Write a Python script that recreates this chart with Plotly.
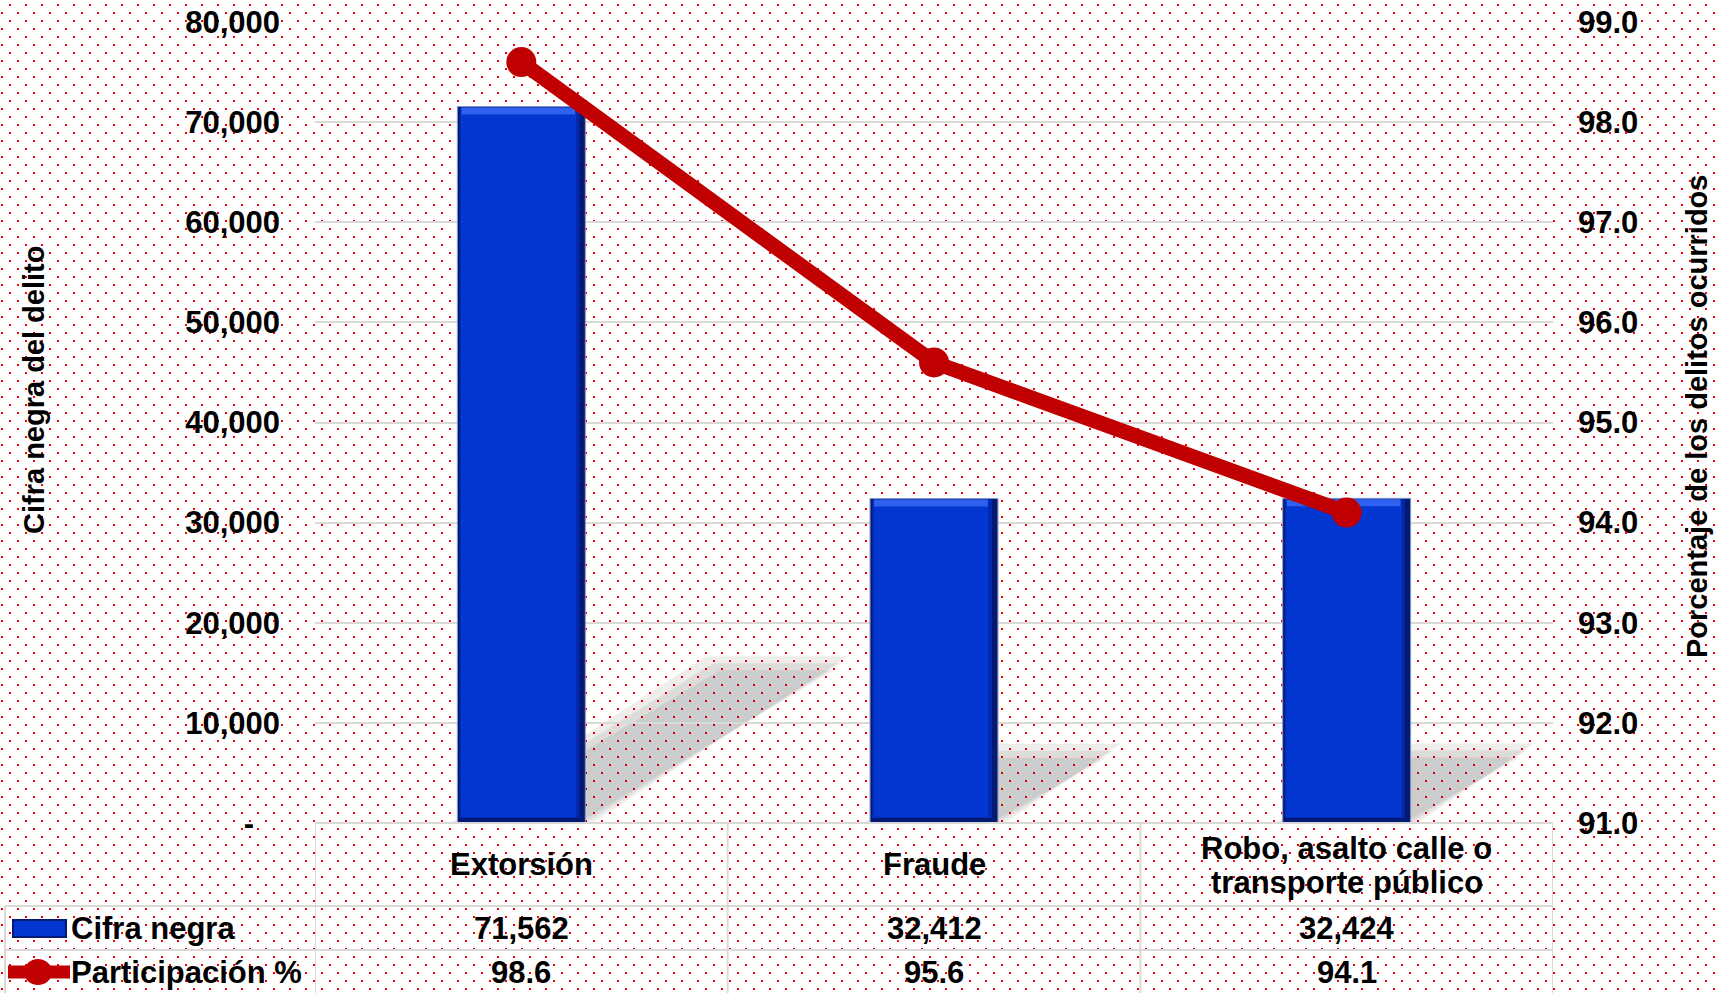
import base64
import plotly.graph_objects as go

# datos
categories = ["Extorsión", "Fraude", "Robo, asalto calle o transporte público"]
category_labels = ["Extorsión", "Fraude", "Robo, asalto calle o\ntransporte público"]
cifra_negra = [71562, 32412, 32424]
participacion = [98.6, 95.6, 94.1]
left_ticks = [0, 10000, 20000, 30000, 40000, 50000, 60000, 70000, 80000]
right_ticks = [91.0, 92.0, 93.0, 94.0, 95.0, 96.0, 97.0, 98.0, 99.0]
row_names = ["Cifra negra", "Participación %"]

# colores / medidas
W, H = 1716, 993
PL, PR, PT, PB = 315, 1553, 22, 823
RED = "#C00000"
BLUE = "#0335D0"
GRID = "#D9D9D9"
FONT = "Liberation Sans, Arial, sans-serif"
FS = 31

n = len(categories)
idx = list(range(n))
ux = n / (PR - PL)                      # unidades de categoría por px
uy = left_ticks[-1] / (PB - PT)         # unidades del eje izq. por px
BAR_W = 0.31


def px(x):
    return (x - PL) / (PR - PL)


def py(y):
    return (PB - y) / (PB - PT)


# fondo de puntos rojos
svg = (
    f'<svg xmlns="http://www.w3.org/2000/svg" width="{W}" height="{H}" shape-rendering="crispEdges">'
    '<defs><pattern id="d" width="16" height="16" patternUnits="userSpaceOnUse">'
    '<rect x="9" y="4" width="2" height="2" fill="#ff0000"/>'
    '<rect x="1" y="12" width="2" height="2" fill="#ff0000"/>'
    '</pattern></defs>'
    f'<rect width="{W}" height="{H}" fill="#ffffff"/>'
    f'<rect width="{W}" height="{H}" fill="url(#d)"/></svg>'
)
bg_src = "data:image/svg+xml;base64," + base64.b64encode(svg.encode()).decode()

fig = go.Figure()

# barras con efecto bisel (capas)
fig.add_trace(go.Bar(
    x=idx, y=cifra_negra, width=BAR_W, offset=-BAR_W / 2,
    marker=dict(color="#021A72", line=dict(color="#8C98C4", width=1)),
    hoverinfo="skip",
))
fig.add_trace(go.Bar(
    x=idx, y=[v - 6 * uy for v in cifra_negra], base=[5 * uy] * n,
    width=BAR_W - 8 * ux, offset=-BAR_W / 2 + 2 * ux,
    marker=dict(color="#0229B0", line=dict(width=0)),
    hoverinfo="skip",
))
fig.add_trace(go.Bar(
    x=idx, y=[v - 7 * uy for v in cifra_negra], base=[6 * uy] * n,
    width=BAR_W - 14 * ux, offset=-BAR_W / 2 + 4 * ux,
    marker=dict(color="#2F60EE", line=dict(width=0)),
    hoverinfo="skip",
))
fig.add_trace(go.Bar(
    x=idx, y=[v - 14 * uy for v in cifra_negra], base=[6 * uy] * n,
    width=BAR_W - 14 * ux, offset=-BAR_W / 2 + 4 * ux,
    marker=dict(color=BLUE, line=dict(width=0)),
    name="Cifra negra", hovertemplate="%{y:,.0f}<extra></extra>",
))

# línea de participación
fig.add_trace(go.Scatter(
    x=idx, y=participacion, yaxis="y2",
    mode="lines+markers",
    line=dict(color=RED, width=15),
    marker=dict(color=RED, size=30),
    name="Participación %",
))

shapes = []

# sombras proyectadas de las barras
for i, v in enumerate(cifra_negra):
    h_px = v / uy
    dx = 0.357 * h_px * ux
    dy = 0.223 * v
    for s in (7, 0, -7):
        L = i - BAR_W / 2 - s * ux
        R = i + BAR_W / 2 + s * ux
        top = dy + s * uy
        path = f"M {L},0 L {R},0 L {R + dx},{top} L {L + dx},{top} Z"
        shapes.append(dict(type="path", path=path, xref="x", yref="y", layer="below",
                           fillcolor="rgba(0,0,0,0.07)", line=dict(width=0)))


# líneas de la tabla de datos
def tline(x0, y0, x1, y1, xref="paper"):
    shapes.append(dict(type="line", xref=xref, yref="paper", x0=x0, x1=x1,
                       y0=y0, y1=y1, line=dict(color=GRID, width=2), layer="above"))


tline(px(PL), py(PB), px(PR), py(PB))
tline(px(5), py(906), px(PR), py(906))
tline(px(5), py(950), px(PR), py(950))
for b in range(n + 1):
    tline(b - 0.5, py(PB), b - 0.5, py(H + 5), xref="x")
tline(px(5), py(906), px(5), py(H + 5))

# claves de la leyenda en la tabla
shapes.append(dict(type="rect", xref="paper", yref="paper",
                   x0=px(13), x1=px(66), y0=py(920), y1=py(937),
                   fillcolor=BLUE, line=dict(color="#031A70", width=2)))
shapes.append(dict(type="line", xref="paper", yref="paper",
                   x0=px(8), x1=px(70), y0=py(972), y1=py(972),
                   line=dict(color=RED, width=13)))
shapes.append(dict(type="circle", xref="paper", yref="paper",
                   x0=px(38 - 14), x1=px(38 + 14), y0=py(972 + 13), y1=py(972 - 13),
                   fillcolor=RED, line=dict(width=0)))

annotations = []
txt = dict(family=FONT, size=FS, color="#000000", weight="bold")

for i, lab in enumerate(category_labels):
    lines = lab.split("\n")
    for k, ln in enumerate(lines):
        yy = 865 + (k - (len(lines) - 1) / 2) * 34
        annotations.append(dict(x=i, y=py(yy), xref="x", yref="paper", text=ln,
                                showarrow=False, font=txt, xanchor="center", yanchor="middle"))
    annotations.append(dict(x=i, y=py(928), xref="x", yref="paper", text=f"{cifra_negra[i]:,}",
                            showarrow=False, font=txt, xanchor="center", yanchor="middle"))
    annotations.append(dict(x=i, y=py(972), xref="x", yref="paper", text=f"{participacion[i]:.1f}",
                            showarrow=False, font=txt, xanchor="center", yanchor="middle"))

for name, yy in zip(row_names, (928, 972)):
    annotations.append(dict(x=px(69), y=py(yy), xref="paper", yref="paper", text=name,
                            showarrow=False, font=txt, xanchor="left", yanchor="middle"))

# títulos de ejes
annotations.append(dict(x=px(34), y=py(390), xref="paper", yref="paper",
                        text="Cifra negra del delito", textangle=-90, showarrow=False,
                        font=dict(family=FONT, size=29, color="#000000", weight="bold"),
                        xanchor="center", yanchor="middle"))
annotations.append(dict(x=px(1697), y=py(417), xref="paper", yref="paper",
                        text="Porcentaje de los delitos ocurridos", textangle=-90, showarrow=False,
                        font=dict(family=FONT, size=29, color="#000000", weight="bold"),
                        xanchor="center", yanchor="middle"))

left_text = ["-" + "\u00a0" * 3 if v == 0 else f"{v:,}" for v in left_ticks]

fig.update_layout(
    width=W, height=H, autosize=False,
    margin=dict(l=PL, r=W - PR, t=PT, b=H - PB, pad=0, autoexpand=False),
    paper_bgcolor="#ffffff",
    plot_bgcolor="rgba(0,0,0,0)",
    barmode="overlay",
    showlegend=False,
    font=dict(family=FONT, color="#000000"),
    xaxis=dict(range=[-0.5, n - 0.5], showticklabels=False, showgrid=False,
               zeroline=False, showline=False, ticks="", automargin=False),
    yaxis=dict(range=[left_ticks[0], left_ticks[-1]], tickvals=left_ticks, ticktext=left_text,
               showgrid=True, gridcolor=GRID, gridwidth=2, zeroline=False, showline=False,
               ticks="", ticklabelstandoff=34, automargin=False,
               tickfont=dict(family=FONT, size=FS, color="#000000", weight="bold")),
    yaxis2=dict(range=[right_ticks[0], right_ticks[-1]], tickvals=right_ticks, tickformat=".1f",
                overlaying="y", side="right", showgrid=False, zeroline=False, showline=False,
                ticks="", ticklabelstandoff=24, automargin=False,
                tickfont=dict(family=FONT, size=FS, color="#000000", weight="bold")),
    images=[dict(source=bg_src, xref="paper", yref="paper", x=px(0), y=py(0),
                 sizex=W / (PR - PL), sizey=H / (PB - PT), xanchor="left", yanchor="top",
                 sizing="stretch", layer="below")],
    shapes=shapes,
    annotations=annotations,
)

fig.write_html("out.html", config={"displayModeBar": False},
               post_script="document.body.style.margin='0';document.body.style.overflow='hidden';")
